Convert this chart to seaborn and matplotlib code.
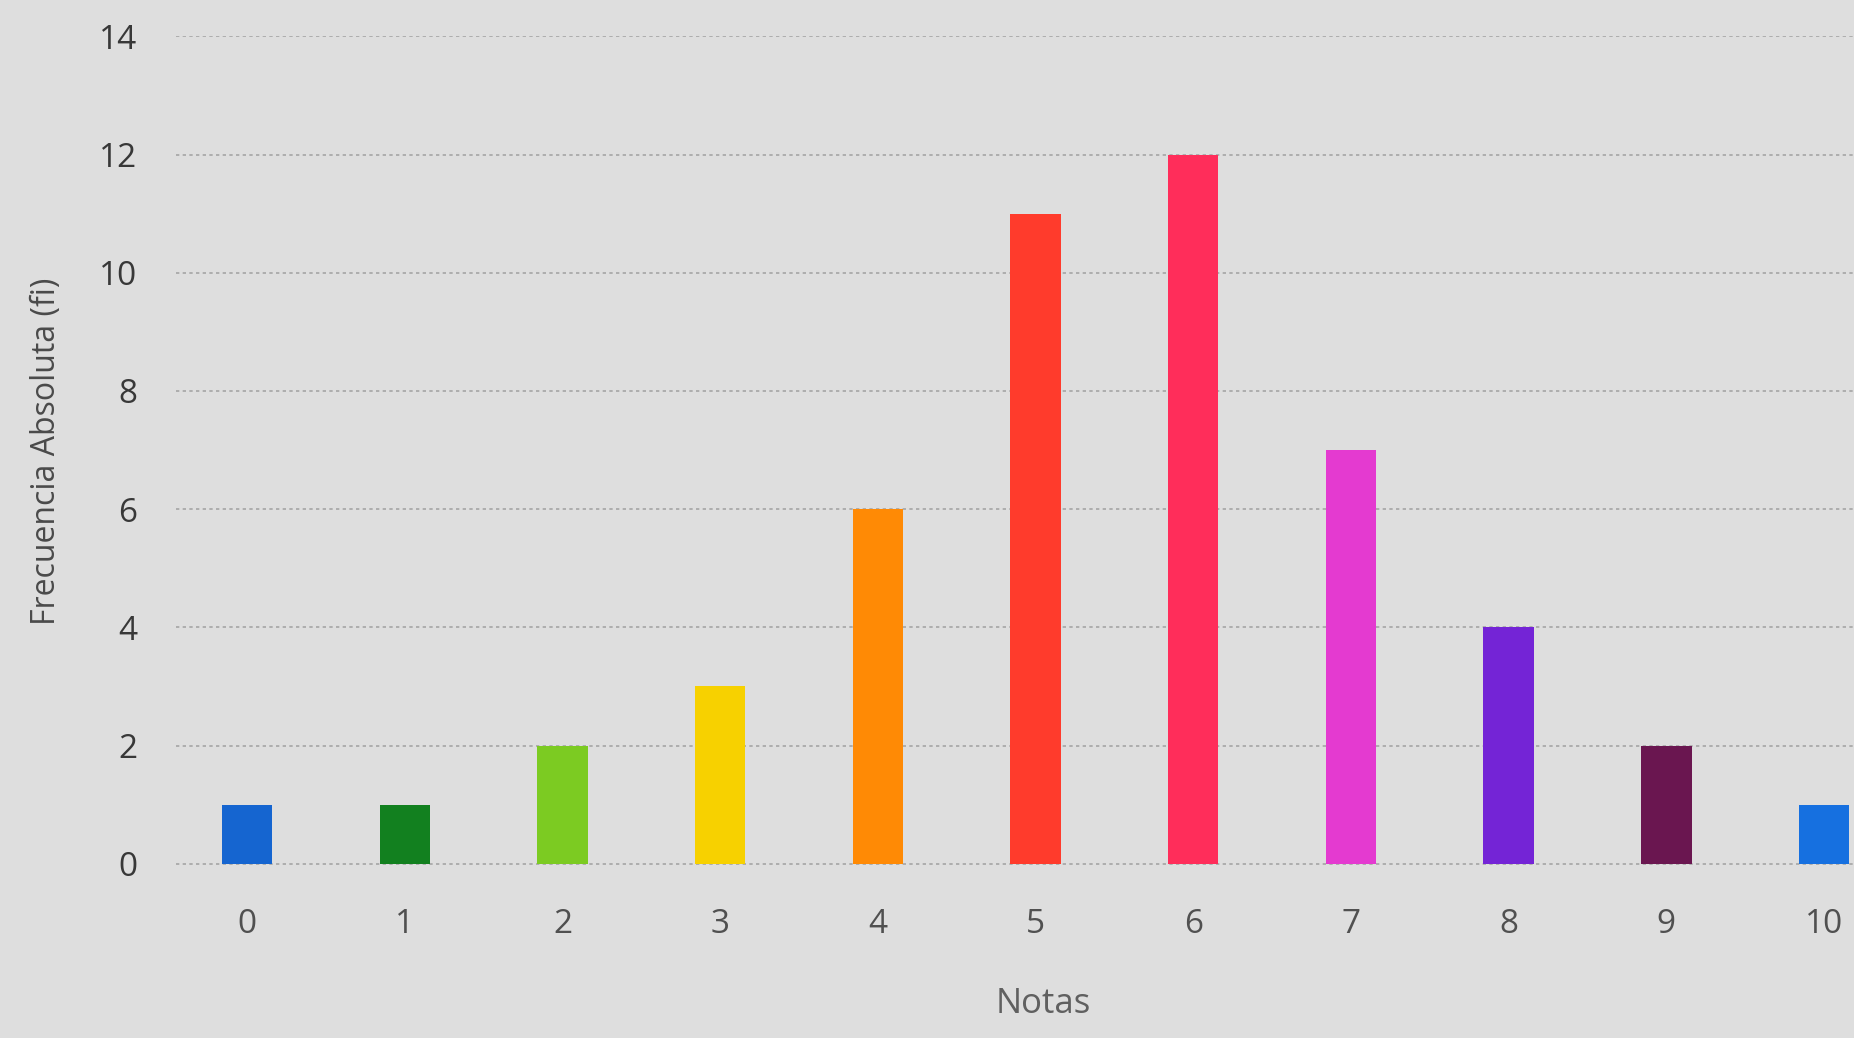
import matplotlib
matplotlib.use("Agg")
import matplotlib.pyplot as plt
import seaborn as sns
import pandas as pd

notas = ["0", "1", "2", "3", "4", "5", "6", "7", "8", "9", "10"]
frecuencia = [1, 1, 2, 3, 6, 11, 12, 7, 4, 2, 1]
colores = ["#1565d0", "#12801f", "#7ccb22", "#f7d100", "#ff8a05", "#ff3b2c",
           "#ff2d5a", "#e43ad0", "#7424d6", "#6a1650", "#1670e0"]
y_ticks = [0, 2, 4, 6, 8, 10, 12, 14]

df = pd.DataFrame({"Notas": notas, "fi": frecuencia})

sns.set_theme(style="white")
plt.rcParams['font.family'] = ['Open Sans', 'DejaVu Sans']

fig = plt.figure(figsize=(18.54, 10.38), dpi=100)
fig.patch.set_facecolor("#dedede")
ax = fig.add_axes([0.095, 0.165, 0.905, 0.8])
ax.set_facecolor("#dedede")

sns.barplot(data=df, x="Notas", y="fi", hue="Notas", order=notas, hue_order=notas,
            palette=colores, saturation=1, width=0.32, linewidth=0,
            legend=False, ax=ax, zorder=3)

ax.set_xlim(-0.45, 10.19)
ax.set_yticks(y_ticks)
ax.yaxis.grid(True, color="#a5a5a5", linestyle=(0, (2, 2)), linewidth=1.2, zorder=0)
ax.set_axisbelow(True)
ax.set_ylim(-0.05, 14.0)
for s in ax.spines.values():
    s.set_visible(False)
ax.tick_params(axis="both", length=0)
ax.tick_params(axis="y", labelsize=24, labelcolor="#383838", pad=28)
ax.tick_params(axis="x", labelsize=24, labelcolor="#505050", pad=30)
ax.set_xlabel("Notas", fontsize=25, color="#606060")
ax.xaxis.set_label_coords(0.517, -0.145)
ax.set_ylabel("Frecuencia Absoluta (fi)", fontsize=23, color="#4a4a4a", labelpad=26)

fig.savefig("out.png", dpi=100, facecolor=fig.get_facecolor())
